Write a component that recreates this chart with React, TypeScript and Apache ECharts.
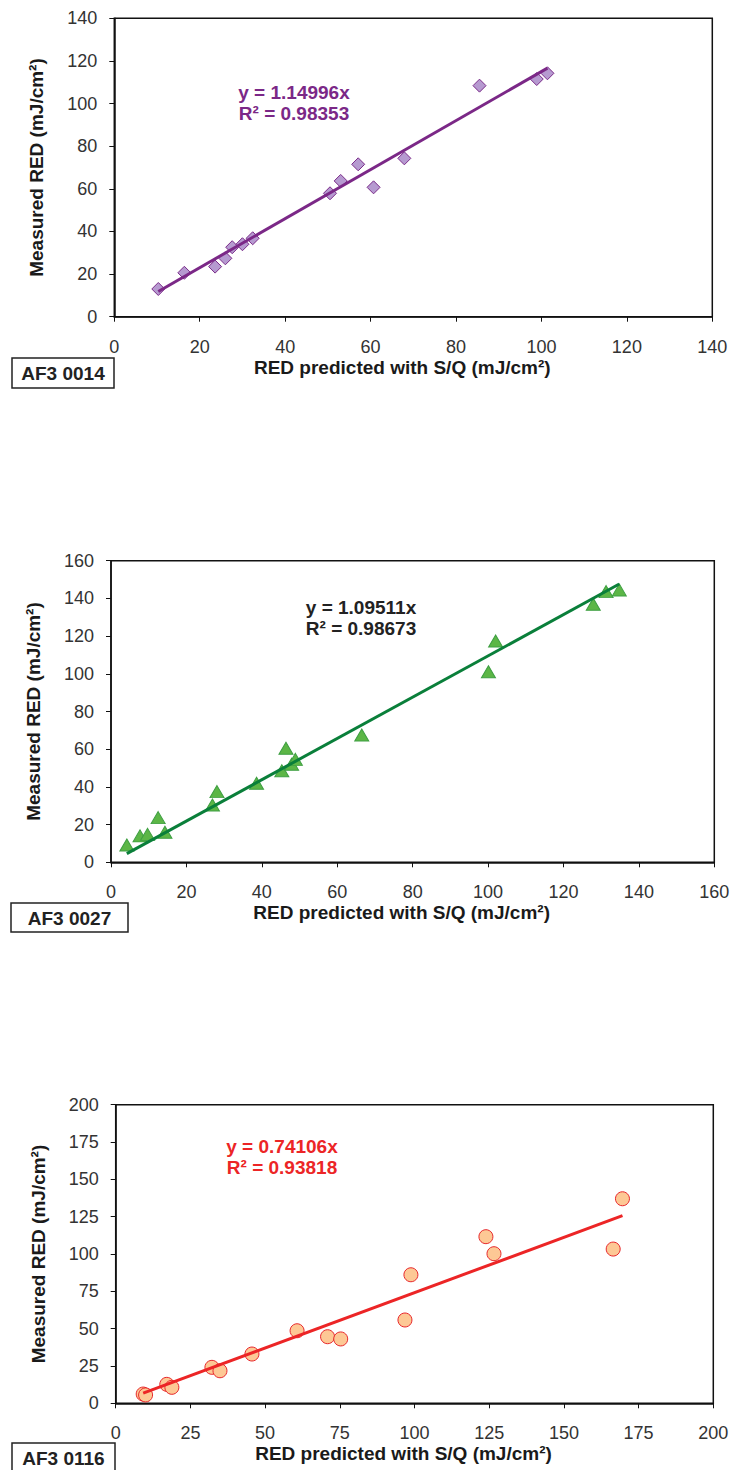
import React, { useEffect, useRef } from "react";
import * as echarts from "echarts";

const FONT = "'Liberation Sans', Arial, Helvetica, sans-serif";

// ---- AF3 0014 ----
const predicted0014 = [10.3, 16.4, 23.6, 26.0, 27.6, 30.0, 32.4, 50.5, 53.0, 57.1, 60.7, 67.9, 85.5, 98.9, 101.4];
const measured0014 = [13.0, 20.6, 23.5, 27.4, 32.6, 34.0, 36.8, 57.9, 63.7, 71.5, 60.7, 74.3, 108.4, 111.5, 114.2];
const slope0014 = 1.14996;
const equation0014 = ["y = 1.14996x", "R² = 0.98353"];
const axisMax0014 = 140;
const axisStep0014 = 20;

// ---- AF3 0027 ----
const predicted0027 = [4.2, 7.7, 9.7, 12.5, 14.3, 26.9, 28.1, 38.6, 45.3, 46.4, 47.9, 48.9, 66.5, 100.1, 102.0, 127.9, 131.3, 134.8];
const measured0027 = [9.2, 14.0, 14.8, 23.7, 15.9, 30.4, 37.5, 41.9, 48.6, 60.5, 52.0, 54.6, 67.5, 101.1, 117.4, 136.9, 143.6, 144.5];
const slope0027 = 1.09511;
const equation0027 = ["y = 1.09511x", "R² = 0.98673"];
const axisMax0027 = 160;
const axisStep0027 = 20;

// ---- AF3 0116 ----
const predicted0116 = [9.2, 10.0, 17.1, 18.8, 32.2, 34.9, 45.6, 60.7, 70.9, 75.3, 96.8, 98.8, 123.9, 126.6, 166.5, 169.6];
const measured0116 = [6.2, 5.6, 12.7, 10.7, 24.1, 21.8, 33.0, 48.6, 44.6, 43.1, 55.8, 86.1, 111.6, 100.2, 103.3, 137.0];
const slope0116 = 0.74106;
const equation0116 = ["y = 0.74106x", "R² = 0.93818"];
const axisMax0116 = 200;
const axisStep0116 = 25;

const xTitle = "RED predicted with S/Q (mJ/cm²)";
const yTitle = "Measured RED (mJ/cm²)";

const panels = [
  {
    label: "AF3 0014",
    xs: predicted0014, ys: measured0014, slope: slope0014, eq: equation0014,
    max: axisMax0014, step: axisStep0014,
    grid: { left: 114.3, top: 18.3, width: 598, height: 298.4 },
    symbol: "diamond", symbolSize: 13,
    fill: "#b69ad0", border: "#7b2c8a", line: "#7b2887", eqColor: "#7b2887",
    eqPos: [294, 92], box: [12, 358, 102, 30],
  },
  {
    label: "AF3 0027",
    xs: predicted0027, ys: measured0027, slope: slope0027, eq: equation0027,
    max: axisMax0027, step: axisStep0027,
    grid: { left: 111, top: 560.7, width: 603.3, height: 301.6 },
    symbol: "triangle", symbolSize: [14, 12],
    fill: "#5cb646", border: "#3e9f42", line: "#0a7f3a", eqColor: "#222222",
    eqPos: [361, 607], box: [11, 903, 117, 29],
  },
  {
    label: "AF3 0116",
    xs: predicted0116, ys: measured0116, slope: slope0116, eq: equation0116,
    max: axisMax0116, step: axisStep0116,
    grid: { left: 115.7, top: 1104.7, width: 597.6, height: 298.6 },
    symbol: "circle", symbolSize: 14,
    fill: "#fdc895", border: "#e8262b", line: "#ec2526", eqColor: "#ec2526",
    eqPos: [282, 1146], box: [12, 1443, 103, 32],
  },
];

export default function App() {
  const ref = useRef<HTMLDivElement>(null);

  useEffect(() => {
    if (!ref.current) return;
    const chart = echarts.init(ref.current, undefined, { renderer: "svg" });

    const grid: any[] = [];
    const xAxis: any[] = [];
    const yAxis: any[] = [];
    const series: any[] = [];
    const graphic: any[] = [];

    panels.forEach((p, i) => {
      grid.push({ ...p.grid, show: true, borderColor: "#111", borderWidth: 1.5, containLabel: false });
      const common = {
        gridIndex: i,
        type: "value",
        min: 0,
        max: p.max,
        interval: p.step,
        nameLocation: "middle",
        nameTextStyle: { fontFamily: FONT, fontSize: 19, fontWeight: "bold", color: "#1a1a1a" },
        axisLine: { show: true, onZero: false, lineStyle: { color: "#111", width: 1.5 } },
        axisTick: { show: true, inside: false, length: 5, lineStyle: { color: "#111", width: 1 } },
        splitLine: { show: false },
        showMinLabel: true,
        showMaxLabel: true,
      };
      xAxis.push({
        ...common,
        name: xTitle,
        nameGap: 41,
        nameTextStyle: { ...common.nameTextStyle, padding: [0, 22, 0, 0] },
        axisLabel: { margin: 21, fontFamily: FONT, fontSize: 18, color: "#333" },
      });
      yAxis.push({
        ...common,
        name: yTitle,
        nameRotate: 90,
        nameGap: 68,
        axisLabel: { margin: 17, fontFamily: FONT, fontSize: 18, color: "#333" },
      });
      series.push({
        type: "scatter",
        xAxisIndex: i,
        yAxisIndex: i,
        symbol: p.symbol,
        symbolSize: p.symbolSize,
        itemStyle: { color: p.fill, borderColor: p.border, borderWidth: 1, opacity: 1 },
        data: p.xs.map((x, k) => [x, p.ys[k]]),
        z: 2,
      });
      const x0 = Math.min(...p.xs);
      const x1 = Math.max(...p.xs);
      series.push({
        type: "line",
        xAxisIndex: i,
        yAxisIndex: i,
        symbol: "none",
        showSymbol: false,
        lineStyle: { color: p.line, width: 3 },
        data: [[x0, p.slope * x0], [x1, p.slope * x1]],
        z: 3,
      });
      graphic.push({
        type: "text",
        x: p.eqPos[0],
        y: p.eqPos[1],
        style: { text: p.eq[0], fill: p.eqColor, font: `bold 19px ${FONT}`, textAlign: "center", textVerticalAlign: "middle" },
      });
      graphic.push({
        type: "text",
        x: p.eqPos[0],
        y: p.eqPos[1] + 21,
        style: { text: p.eq[1], fill: p.eqColor, font: `bold 19px ${FONT}`, textAlign: "center", textVerticalAlign: "middle" },
      });
      const [bx, by, bw, bh] = p.box;
      graphic.push({
        type: "rect",
        shape: { x: bx, y: by, width: bw, height: bh },
        style: { fill: "#fff", stroke: "#222", lineWidth: 1.5 },
      });
      graphic.push({
        type: "text",
        x: bx + bw / 2,
        y: by + 15,
        style: { text: p.label, fill: "#222", font: `bold 19px ${FONT}`, textAlign: "center", textVerticalAlign: "middle" },
      });
    });

    chart.setOption({
      animation: false,
      backgroundColor: "#ffffff",
      textStyle: { fontFamily: FONT },
      grid,
      xAxis,
      yAxis,
      series,
      graphic,
    });

    return () => chart.dispose();
  }, []);

  return (
    <div
      ref={ref}
      style={{ position: "absolute", left: 0, top: 0, width: 740, height: 1470 }}
    />
  );
}
